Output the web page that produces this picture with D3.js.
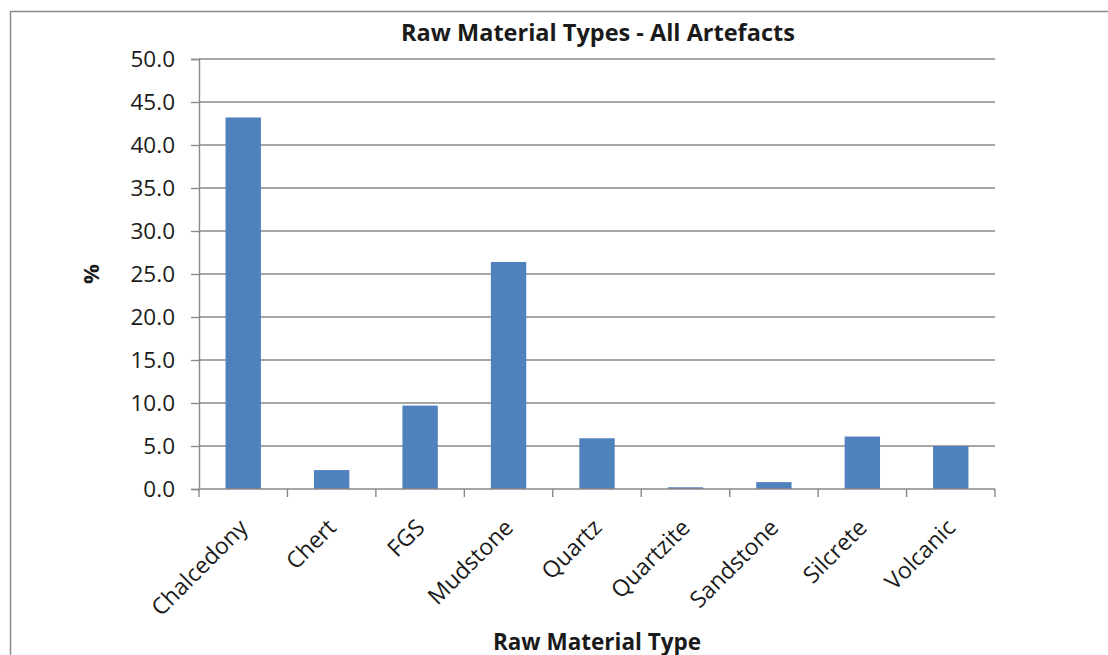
<!DOCTYPE html>
<html>
<head>
<meta charset="utf-8">
<script src="https://cdn.jsdelivr.net/npm/d3@7"></script>
<style>
  html, body { margin: 0; padding: 0; background: #fff; }
  svg { display: block; }
  text { font-family: "Open Sans", "Noto Sans", sans-serif; fill: #1a1a1a; }
</style>
</head>
<body>
<svg id="chart" width="1108" height="655"></svg>
<script>
// Share of each raw material type across all artefacts (%)
const categories = ["Chalcedony", "Chert", "FGS", "Mudstone", "Quartz", "Quartzite", "Sandstone", "Silcrete", "Volcanic"];
const percentages = [43.2, 2.2, 9.7, 26.4, 5.9, 0.2, 0.8, 6.1, 5.0];
const yTicks = [0, 5, 10, 15, 20, 25, 30, 35, 40, 45, 50];
const chartTitle = "Raw Material Types - All Artefacts";
const xTitle = "Raw Material Type";
const yTitle = "%";

const svg = d3.select("#chart");
const W = 1108, H = 655;
const plot = { left: 199, right: 995, top: 59, bottom: 489 };
const gray = "#898989";

// outer chart frame (runs off the right and bottom edges)
svg.append("rect")
  .attr("x", 10.5).attr("y", 11.5)
  .attr("width", W + 20).attr("height", H + 20)
  .attr("fill", "none").attr("stroke", "#8c8c8c").attr("stroke-width", 1.5);

const x = d3.scaleBand().domain(categories).range([plot.left, plot.right]).paddingInner(0.6).paddingOuter(0.3);
const xEdge = d3.scaleLinear().domain([0, categories.length]).range([plot.left, plot.right]);
const y = d3.scaleLinear().domain([0, 50]).range([plot.bottom, plot.top]);

// horizontal gridlines
svg.append("g").selectAll("line").data(yTicks.filter(d => d > 0)).join("line")
  .attr("x1", plot.left).attr("x2", plot.right)
  .attr("y1", d => y(d)).attr("y2", d => y(d))
  .attr("stroke", gray).attr("stroke-width", 1.4);

// bars
svg.append("g").selectAll("rect").data(percentages).join("rect")
  .attr("x", (d, i) => x(categories[i]))
  .attr("width", x.bandwidth())
  .attr("y", d => y(d))
  .attr("height", d => y(0) - y(d))
  .attr("fill", "#4f81bd");

// y axis
const yAxis = d3.axisLeft(y).tickValues(yTicks).tickFormat(d3.format(".1f")).tickSize(8).tickPadding(16);
const gy = svg.append("g").attr("transform", `translate(${plot.left},0)`).call(yAxis);
gy.select(".domain").attr("stroke", gray).attr("stroke-width", 1.4);
gy.selectAll(".tick line").attr("stroke", gray).attr("stroke-width", 1.4);
gy.selectAll(".tick text").attr("font-size", 22.5).attr("font-family", "Open Sans").attr("fill", "#1a1a1a");

// x axis: baseline with tick marks at category boundaries
svg.append("line")
  .attr("x1", plot.left).attr("x2", plot.right)
  .attr("y1", plot.bottom).attr("y2", plot.bottom)
  .attr("stroke", gray).attr("stroke-width", 1.4);
svg.append("g").selectAll("line").data(d3.range(categories.length + 1)).join("line")
  .attr("x1", d => xEdge(d)).attr("x2", d => xEdge(d))
  .attr("y1", plot.bottom).attr("y2", plot.bottom + 8)
  .attr("stroke", gray).attr("stroke-width", 1.4);

// rotated category labels
svg.append("g").selectAll("text").data(categories).join("text")
  .attr("transform", d => `translate(${x(d) + x.bandwidth() / 2 + 6},${plot.bottom + 40}) rotate(-45)`)
  .attr("text-anchor", "end")
  .attr("font-size", 23)
  .text(d => d);

// titles
svg.append("text")
  .attr("x", 598).attr("y", 41)
  .attr("text-anchor", "middle").attr("font-size", 23.5).attr("font-weight", "bold")
  .text(chartTitle);

svg.append("text")
  .attr("x", 597).attr("y", 650)
  .attr("text-anchor", "middle").attr("font-size", 22.5).attr("font-weight", "bold")
  .text(xTitle);

svg.append("text")
  .attr("transform", `translate(99,${(plot.top + plot.bottom) / 2}) rotate(-90)`)
  .attr("text-anchor", "middle").attr("font-size", 22).attr("font-weight", "bold")
  .text(yTitle);
</script>
</body>
</html>
